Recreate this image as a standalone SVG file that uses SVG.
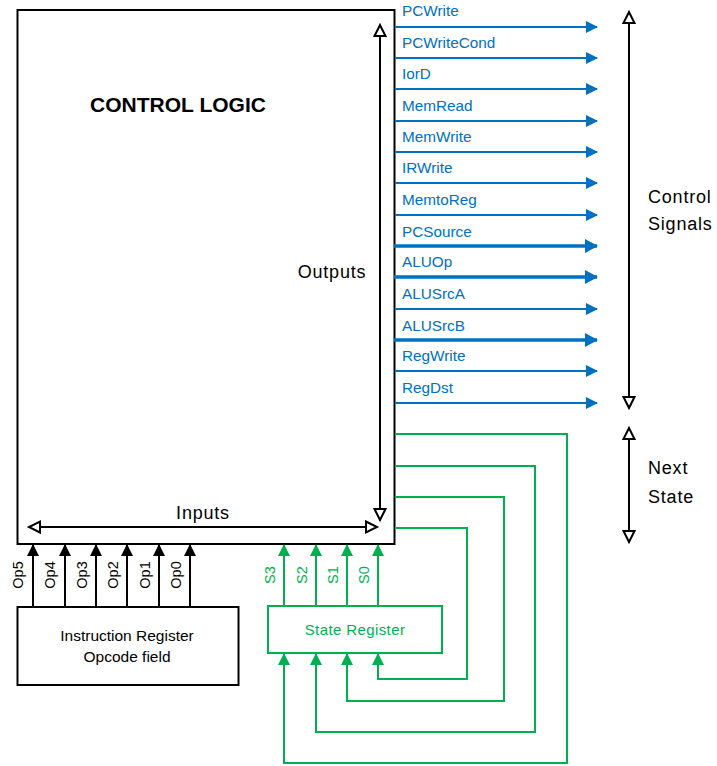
<svg xmlns="http://www.w3.org/2000/svg" width="717" height="766" viewBox="0 0 717 766">
<style>
.box{fill:#fff;stroke:#000;stroke-width:2}
.gbox{fill:#fff;stroke:#00B050;stroke-width:2}
.t{font-family:"Liberation Sans",Arial,sans-serif;}
.sig{font-family:"Liberation Sans",Arial,sans-serif;font-size:15.3px;fill:#0070C0}
.blk{font-family:"Liberation Sans",Arial,sans-serif;font-size:18px;letter-spacing:0.8px;fill:#000}
.sm{font-family:"Liberation Sans",Arial,sans-serif;font-size:15.5px;fill:#000}
.op{font-family:"Liberation Sans",Arial,sans-serif;font-size:14.5px;fill:#000}
.gt{font-family:"Liberation Sans",Arial,sans-serif;font-size:15px;letter-spacing:0.4px;fill:#00B050}
.gs{font-family:"Liberation Sans",Arial,sans-serif;font-size:14.5px;fill:#00B050}
.bl{stroke:#0070C0;stroke-width:2;fill:none}
.blt{stroke:#0070C0;stroke-width:3.5;fill:none}
.k{stroke:#000;stroke-width:2;fill:none}
.g{stroke:#00B050;stroke-width:2;fill:none}
</style>
<defs>
<marker id="ab" markerUnits="userSpaceOnUse" markerWidth="14" markerHeight="14" refX="11" refY="6" orient="auto"><path d="M0,0 L12,6 L0,12 Z" fill="#0070C0"/></marker>
<marker id="abt" markerUnits="userSpaceOnUse" markerWidth="16" markerHeight="16" refX="12" refY="7" orient="auto"><path d="M0,0 L13,7 L0,14 Z" fill="#0070C0"/></marker>
<marker id="ak" markerUnits="userSpaceOnUse" markerWidth="14" markerHeight="14" refX="11" refY="6" orient="auto"><path d="M0,0 L12,6 L0,12 Z" fill="#000"/></marker>
<marker id="ag" markerUnits="userSpaceOnUse" markerWidth="14" markerHeight="14" refX="11" refY="6" orient="auto"><path d="M0,0 L12,6 L0,12 Z" fill="#00B050"/></marker>
<marker id="ah" markerUnits="userSpaceOnUse" markerWidth="16" markerHeight="16" refX="13" refY="7" orient="auto"><path d="M2,1.5 L13,7 L2,12.5 Z" fill="#fff" stroke="#000" stroke-width="2"/></marker>
<marker id="ahs" markerUnits="userSpaceOnUse" markerWidth="16" markerHeight="16" refX="13" refY="7" orient="auto-start-reverse"><path d="M2,1.5 L13,7 L2,12.5 Z" fill="#fff" stroke="#000" stroke-width="2"/></marker>
</defs>

<g id="control-logic">
<rect class="box" x="17.5" y="10" width="377" height="534"/>
<text class="t" x="178" y="112" font-size="21" font-weight="bold" text-anchor="middle">CONTROL LOGIC</text>
<text class="blk" x="332" y="278" text-anchor="middle">Outputs</text>
<text class="blk" x="203" y="519" text-anchor="middle">Inputs</text>
</g>

<g id="instruction-register">
<rect class="box" x="17.5" y="607" width="221" height="78"/>
<text class="sm" x="127" y="641" text-anchor="middle">Instruction Register</text>
<text class="sm" x="127" y="662" text-anchor="middle">Opcode field</text>
</g>

<g id="state-register">
<rect class="gbox" x="268" y="606" width="174" height="47"/>
<text class="gt" x="355" y="635" text-anchor="middle">State Register</text>
</g>

<g id="signal-labels">
<text class="sig" x="402" y="16">PCWrite</text>
<text class="sig" x="402" y="48">PCWriteCond</text>
<text class="sig" x="402" y="79">IorD</text>
<text class="sig" x="402" y="111">MemRead</text>
<text class="sig" x="402" y="142">MemWrite</text>
<text class="sig" x="402" y="173">IRWrite</text>
<text class="sig" x="402" y="205">MemtoReg</text>
<text class="sig" x="402" y="237">PCSource</text>
<text class="sig" x="402" y="267">ALUOp</text>
<text class="sig" x="402" y="299">ALUSrcA</text>
<text class="sig" x="402" y="331">ALUSrcB</text>
<text class="sig" x="402" y="361">RegWrite</text>
<text class="sig" x="402" y="393">RegDst</text>
</g>

<g id="side-labels">
<text class="blk" x="648" y="203">Control</text>
<text class="blk" x="648" y="230">Signals</text>
<text class="blk" x="648" y="474">Next</text>
<text class="blk" x="648" y="503">State</text>
</g>

<g id="op-labels">
<text class="op" transform="translate(23,575) rotate(-90)" text-anchor="middle">Op5</text>
<text class="op" transform="translate(55,575) rotate(-90)" text-anchor="middle">Op4</text>
<text class="op" transform="translate(87,575) rotate(-90)" text-anchor="middle">Op3</text>
<text class="op" transform="translate(118,575) rotate(-90)" text-anchor="middle">Op2</text>
<text class="op" transform="translate(150,575) rotate(-90)" text-anchor="middle">Op1</text>
<text class="op" transform="translate(181,575) rotate(-90)" text-anchor="middle">Op0</text>
<text class="gs" transform="translate(275,575) rotate(-90)" text-anchor="middle">S3</text>
<text class="gs" transform="translate(307,575) rotate(-90)" text-anchor="middle">S2</text>
<text class="gs" transform="translate(338,575) rotate(-90)" text-anchor="middle">S1</text>
<text class="gs" transform="translate(369,575) rotate(-90)" text-anchor="middle">S0</text>
</g>

<g id="connectors">
<line class="bl" x1="395" y1="27" x2="597" y2="27" marker-end="url(#ab)"/>
<line class="bl" x1="395" y1="58" x2="597" y2="58" marker-end="url(#ab)"/>
<line class="bl" x1="395" y1="89" x2="597" y2="89" marker-end="url(#ab)"/>
<line class="bl" x1="395" y1="121" x2="597" y2="121" marker-end="url(#ab)"/>
<line class="bl" x1="395" y1="152" x2="597" y2="152" marker-end="url(#ab)"/>
<line class="bl" x1="395" y1="183" x2="597" y2="183" marker-end="url(#ab)"/>
<line class="bl" x1="395" y1="215" x2="597" y2="215" marker-end="url(#ab)"/>
<line class="blt" x1="394" y1="246" x2="597" y2="246" marker-end="url(#abt)"/>
<line class="blt" x1="394" y1="277" x2="597" y2="277" marker-end="url(#abt)"/>
<line class="bl" x1="395" y1="309" x2="597" y2="309" marker-end="url(#ab)"/>
<line class="blt" x1="394" y1="340" x2="597" y2="340" marker-end="url(#abt)"/>
<line class="bl" x1="395" y1="371" x2="597" y2="371" marker-end="url(#ab)"/>
<line class="bl" x1="395" y1="403" x2="597" y2="403" marker-end="url(#ab)"/>

<line class="k" x1="380" y1="25" x2="380" y2="520" marker-start="url(#ahs)" marker-end="url(#ah)"/>
<line class="k" x1="29" y1="527" x2="377" y2="527" marker-start="url(#ahs)" marker-end="url(#ah)"/>
<line class="k" x1="629" y1="12" x2="629" y2="408" marker-start="url(#ahs)" marker-end="url(#ah)"/>
<line class="k" x1="629" y1="428" x2="629" y2="542" marker-start="url(#ahs)" marker-end="url(#ah)"/>

<line class="k" x1="33" y1="607" x2="33" y2="545" marker-end="url(#ak)"/>
<line class="k" x1="65" y1="607" x2="65" y2="545" marker-end="url(#ak)"/>
<line class="k" x1="96" y1="607" x2="96" y2="545" marker-end="url(#ak)"/>
<line class="k" x1="127" y1="607" x2="127" y2="545" marker-end="url(#ak)"/>
<line class="k" x1="159" y1="607" x2="159" y2="545" marker-end="url(#ak)"/>
<line class="k" x1="190" y1="607" x2="190" y2="545" marker-end="url(#ak)"/>

<line class="g" x1="284" y1="606" x2="284" y2="545" marker-end="url(#ag)"/>
<line class="g" x1="316" y1="606" x2="316" y2="545" marker-end="url(#ag)"/>
<line class="g" x1="347" y1="606" x2="347" y2="545" marker-end="url(#ag)"/>
<line class="g" x1="378" y1="606" x2="378" y2="545" marker-end="url(#ag)"/>

<polyline class="g" points="395,434 567,434 567,763 284,763 284,654" marker-end="url(#ag)"/>
<polyline class="g" points="395,466 535,466 535,732 316,732 316,654" marker-end="url(#ag)"/>
<polyline class="g" points="395,497 504,497 504,701 347,701 347,654" marker-end="url(#ag)"/>
<polyline class="g" points="395,528 467,528 467,679 378,679 378,654" marker-end="url(#ag)"/>
</g>
</svg>
